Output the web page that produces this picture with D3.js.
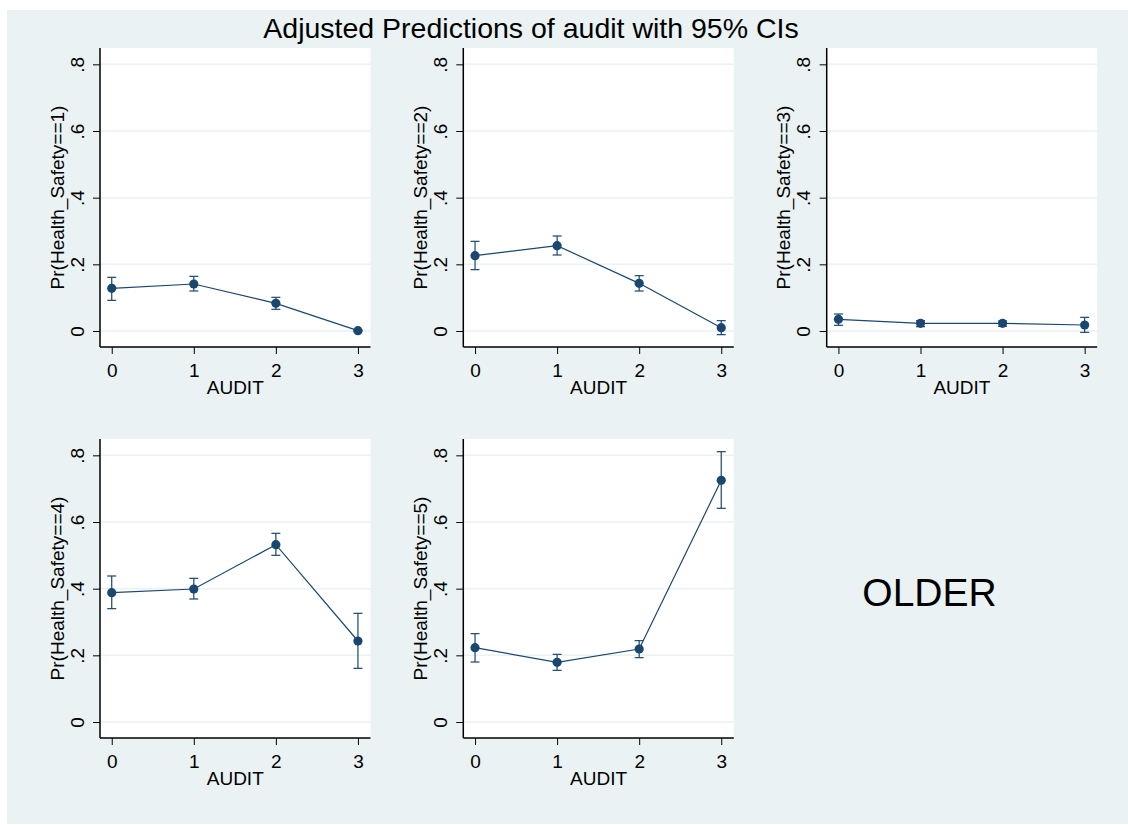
<!DOCTYPE html>
<html>
<head>
<meta charset="utf-8">
<script src="https://cdn.jsdelivr.net/npm/d3@7"></script>
<style>
  body { margin: 0; background: #ffffff; }
  text { font-family: "Liberation Sans", Arial, sans-serif; fill: #000; }
</style>
</head>
<body>
<div id="chart"></div>
<script>
// x values and tick labels
var auditLevels = [0, 1, 2, 3];
var yTicks = [0, 0.2, 0.4, 0.6, 0.8];
var yTickLabels = ["0", ".2", ".4", ".6", ".8"];
var outcomes = [1, 2, 3, 4, 5];

// adjusted predictions and 95% CI per Health_Safety outcome
var pred1 = [0.128, 0.141, 0.083, 0.001];
var lower1 = [0.092, 0.120, 0.065, -0.001];
var upper1 = [0.161, 0.164, 0.101, 0.003];

var pred2 = [0.226, 0.256, 0.143, 0.010];
var lower2 = [0.184, 0.228, 0.120, -0.011];
var upper2 = [0.269, 0.285, 0.166, 0.031];

var pred3 = [0.035, 0.023, 0.023, 0.018];
var lower3 = [0.017, 0.013, 0.014, -0.004];
var upper3 = [0.051, 0.031, 0.030, 0.041];

var pred4 = [0.388, 0.399, 0.532, 0.243];
var lower4 = [0.340, 0.369, 0.500, 0.161];
var upper4 = [0.438, 0.431, 0.566, 0.326];

var pred5 = [0.223, 0.179, 0.219, 0.725];
var lower5 = [0.180, 0.155, 0.193, 0.641];
var upper5 = [0.265, 0.203, 0.244, 0.811];

var preds = [pred1, pred2, pred3, pred4, pred5];
var lowers = [lower1, lower2, lower3, lower4, lower5];
var uppers = [upper1, upper2, upper3, upper4, upper5];

var W = 1128, H = 825;
var navy = "#1a476f", bg = "#eaf2f3";

// panel placement (3 columns, 2 rows)
var colLeft = [100, 463.3, 826.7],
    rowTop = [48, 439],
    pw = 270.5,
    ph = 299;

var svg = d3.select("#chart")
    .append("svg")
    .attr("width", W)
    .attr("height", H);

svg.append("rect")
    .attr("x", 7).attr("y", 10)
    .attr("width", W - 7).attr("height", 814)
    .attr("fill", bg);

svg.append("text")
    .attr("x", 531).attr("y", 38)
    .attr("text-anchor", "middle")
    .style("font-size", "28.5px")
    .text("Adjusted Predictions of audit with 95% CIs");

outcomes.forEach(function (k, i) {
    var col = i % 3, row = Math.floor(i / 3);
    var g = svg.append("g")
        .attr("transform", "translate(" + colLeft[col] + "," + rowTop[row] + ")");

    var x = d3.scaleLinear().domain([-0.143, 3.153]).range([0, pw]);
    var y = d3.scaleLinear().domain([-0.048, 0.849]).range([ph, 0]);

    g.append("rect")
        .attr("width", pw).attr("height", ph)
        .attr("fill", "#ffffff");

    // grid lines
    g.selectAll(".grid")
        .data(yTicks)
        .enter().append("line")
        .attr("x1", 0).attr("x2", pw)
        .attr("y1", function (d) { return y(d); })
        .attr("y2", function (d) { return y(d); })
        .attr("stroke", bg)
        .attr("stroke-width", 1.5);

    // Add Y axis
    var yAxis = g.append("g")
        .call(d3.axisLeft(y).tickValues(yTicks)
            .tickFormat(function (d, j) { return yTickLabels[j]; })
            .tickSize(7).tickSizeOuter(0));
    yAxis.select(".domain").attr("stroke", "#000").attr("stroke-width", 1.5)
        .attr("d", "M0,0V" + ph);
    yAxis.selectAll(".tick line").attr("stroke", "#000");
    yAxis.selectAll(".tick text")
        .attr("x", 0).attr("dy", null)
        .attr("transform", "translate(-16.5,0) rotate(-90)")
        .attr("text-anchor", "middle")
        .style("font-size", "19px")
        .style("font-family", "'Liberation Sans', Arial, sans-serif");

    // Add X axis
    var xAxis = g.append("g")
        .attr("transform", "translate(0," + ph + ")")
        .call(d3.axisBottom(x).tickValues(auditLevels)
            .tickFormat(d3.format("d"))
            .tickSize(7).tickSizeOuter(0));
    xAxis.select(".domain").attr("stroke", "#000").attr("stroke-width", 1.5)
        .attr("d", "M0,0H" + pw);
    xAxis.selectAll(".tick line").attr("stroke", "#000");
    xAxis.selectAll(".tick text")
        .attr("y", 29.5).attr("dy", null)
        .style("font-size", "19px")
        .style("font-family", "'Liberation Sans', Arial, sans-serif");

    // axis titles
    g.append("text")
        .attr("x", pw / 2).attr("y", ph + 47.3)
        .attr("text-anchor", "middle")
        .style("font-size", "19px")
        .text("AUDIT");

    g.append("text")
        .attr("transform", "translate(-36.5," + (ph / 2) + ") rotate(-90)")
        .attr("text-anchor", "middle")
        .style("font-size", "19px")
        .text("Pr(Health_Safety==" + k + ")");

    var pts = auditLevels.map(function (a, j) {
        return {a: a, p: preds[i][j], lo: lowers[i][j], hi: uppers[i][j]};
    });

    // error bars
    var bars = g.append("g").attr("stroke", navy).attr("stroke-width", 1.2);
    pts.forEach(function (d) {
        bars.append("line")
            .attr("x1", x(d.a)).attr("x2", x(d.a))
            .attr("y1", y(d.lo)).attr("y2", y(d.hi));
        [d.lo, d.hi].forEach(function (v) {
            bars.append("line")
                .attr("x1", x(d.a) - 4.5).attr("x2", x(d.a) + 4.5)
                .attr("y1", y(v)).attr("y2", y(v));
        });
    });

    g.append("path")
        .datum(pts)
        .attr("fill", "none")
        .attr("stroke", navy)
        .attr("stroke-width", 1.2)
        .attr("d", d3.line()
            .x(function (d) { return x(d.a); })
            .y(function (d) { return y(d.p); }));

    g.selectAll("circle")
        .data(pts)
        .enter().append("circle")
        .attr("cx", function (d) { return x(d.a); })
        .attr("cy", function (d) { return y(d.p); })
        .attr("r", 4.6)
        .attr("fill", navy);
});

svg.append("text")
    .attr("x", 929.5).attr("y", 606)
    .attr("text-anchor", "middle")
    .style("font-size", "39px")
    .text("OLDER");
</script>
</body>
</html>
